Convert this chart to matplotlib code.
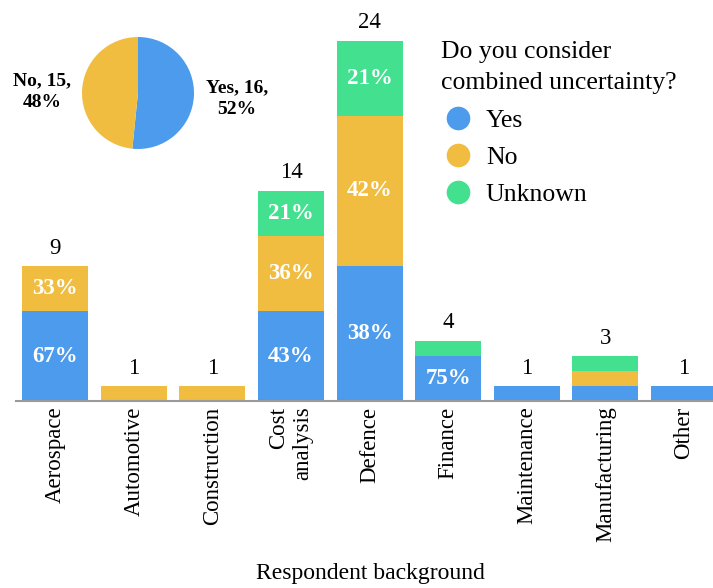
import matplotlib
matplotlib.use("Agg")
import matplotlib.pyplot as plt
from matplotlib.lines import Line2D

plt.rcParams["font.family"] = ["Liberation Serif", "DejaVu Serif"]

# survey counts per respondent background
categories = ["Aerospace", "Automotive", "Construction", "Cost\nanalysis", "Defence",
              "Finance", "Maintenance", "Manufacturing", "Other"]
yes_counts = [6, 0, 0, 6, 9, 3, 1, 1, 1]
no_counts = [3, 1, 1, 5, 10, 0, 0, 1, 0]
unknown_counts = [0, 0, 0, 3, 5, 1, 0, 1, 0]

# overall answers for the inset pie
pie_labels = ["Yes", "No"]
pie_counts = [16, 15]

c_yes = "#4C9BEC"
c_no = "#F0BD41"
c_unk = "#42E08F"

fig = plt.figure(figsize=(7.13, 5.88), dpi=100)
ax = fig.add_axes([16 / 713, 187 / 588, 697 / 713, 401 / 588])

x = list(range(len(categories)))
totals = [a + b + c for a, b, c in zip(yes_counts, no_counts, unknown_counts)]
bottom_no = yes_counts
bottom_unk = [a + b for a, b in zip(yes_counts, no_counts)]

w = 0.84
ax.bar(x, yes_counts, w, color=c_yes)
ax.bar(x, no_counts, w, bottom=bottom_no, color=c_no)
ax.bar(x, unknown_counts, w, bottom=bottom_unk, color=c_unk)

# percentage labels inside segments with room for them
for counts, base in [(yes_counts, [0] * len(x)), (no_counts, bottom_no), (unknown_counts, bottom_unk)]:
    for i, (n, b) in enumerate(zip(counts, base)):
        if n >= 2:
            pct = round(n / totals[i] * 100)
            ax.text(i, b + n / 2, f"{pct}%", ha="center", va="center",
                    color="white", fontweight="bold", fontsize=16.5)

for i, t in enumerate(totals):
    ax.annotate(str(t), (i, t), xytext=(0, 9), textcoords="offset points",
                ha="center", va="baseline", fontsize=16.5)

ax.set_xlim(-0.5, 8.37)
ax.set_ylim(0, 401 / 15)
for s in ["top", "right", "left"]:
    ax.spines[s].set_visible(False)
ax.spines["bottom"].set_color("#9a9a9a")
ax.spines["bottom"].set_linewidth(1.5)
ax.set_yticks([])
ax.set_xticks(x)
ax.set_xticklabels(categories, rotation=90, fontsize=16.5, multialignment="right")
ax.tick_params(axis="x", length=0, pad=4)
ax.set_xlabel("Respondent background", fontsize=17)
ax.xaxis.set_label_coords((370 - 16) / 697, (401 - 563) / 401)

handles = [Line2D([], [], marker="o", ls="", color=c, markersize=16)
           for c in (c_yes, c_no, c_unk)]
leg = ax.legend(handles, ["Yes", "No", "Unknown"], title="Do you consider\ncombined uncertainty?",
                loc="upper left", bbox_to_anchor=(428 / 713, 1 - 28 / 588),
                bbox_transform=fig.transFigure, frameon=False, fontsize=18.5,
                title_fontsize=18.5, alignment="left", borderpad=0,
                handletextpad=0.43, labelspacing=0.56, handlelength=1.32)
leg.get_title().set_linespacing(1.55)

pax = fig.add_axes([82 / 713, 1 - 149 / 588, 112 / 713, 112 / 588])
pax.pie(pie_counts, colors=[c_yes, c_no], startangle=90, counterclock=False)
pax.set_xlim(-1, 1)
pax.set_ylim(-1, 1)
pax.set_aspect("equal")
total_pie = sum(pie_counts)
fig.text(237 / 713, 1 - 99 / 588,
         f"{pie_labels[0]}, {pie_counts[0]},\n{round(pie_counts[0] / total_pie * 100)}%",
         ha="center", va="center", fontweight="bold", fontsize=14, linespacing=1.35)
fig.text(42 / 713, 1 - 92 / 588,
         f"{pie_labels[1]}, {pie_counts[1]},\n{round(pie_counts[1] / total_pie * 100)}%",
         ha="center", va="center", fontweight="bold", fontsize=14, linespacing=1.35)

fig.savefig("out.png", dpi=100)
